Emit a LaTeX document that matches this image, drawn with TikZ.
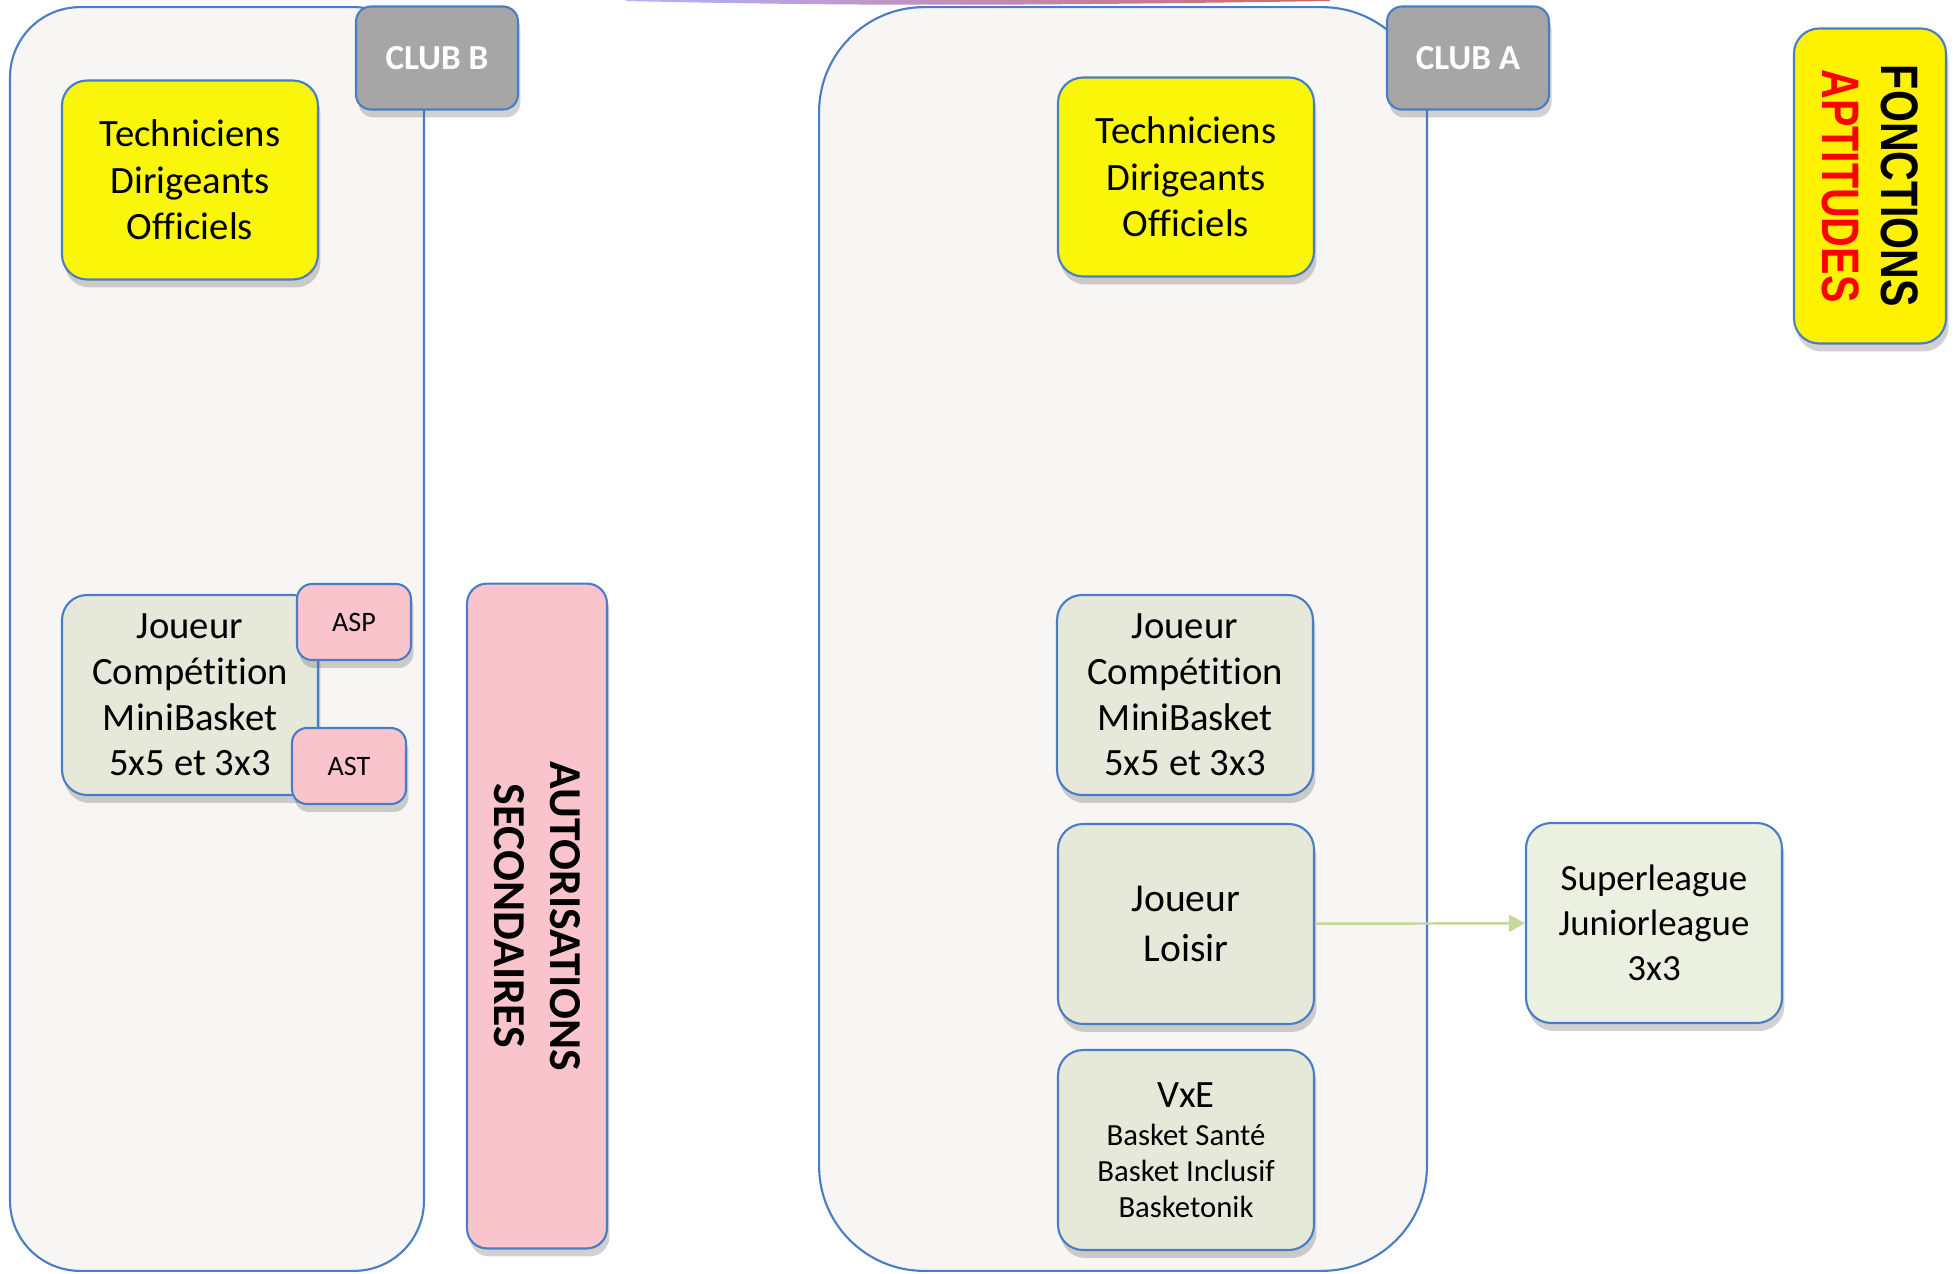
\documentclass[tikz,border=0pt]{standalone}
\usepackage{fontspec}
\setmainfont{Carlito}[Ligatures=NoCommon]
\newfontfamily\widefont{Liberation Sans}
\usetikzlibrary{positioning}
\usetikzlibrary{shadows}
\usetikzlibrary{arrows.meta}
\definecolor{edgeblue}{HTML}{4A7EC4}
\definecolor{zonegray}{HTML}{F7F6F4}
\definecolor{tabgray}{HTML}{A6A6A6}
\definecolor{jaune}{HTML}{FAF60A}
\definecolor{sauge}{HTML}{E6E9D9}
\definecolor{saugeclair}{HTML}{EBF0E0}
\definecolor{rose}{HTML}{F9C4CC}
\definecolor{vert}{HTML}{C4D89A}
\tikzset{
  box/.style            = { rectangle, rounded corners=5mm, align=center, inner sep=0pt },
  border/.style         = { line width=1.2pt, draw=edgeblue },
  lifted/.style         = { drop shadow={shadow xshift=0.5mm, shadow yshift=-1.6mm, opacity=0.3, fill=black!60} },
}
\tikzset{
  zone/.style           = { border, fill=zonegray, rectangle, minimum height=25.28cm },
  tab/.style            = { box, border, lifted, rounded corners=3mm, fill=tabgray,
                            minimum width=3.24cm, minimum height=2.06cm,
                            text=white, font=\fontsize{20}{24}\selectfont\bfseries },
  staff/.style          = { box, border, lifted, fill=jaune, minimum width=5.12cm, minimum height=3.98cm,
                            font=\fontsize{22}{26.5}\selectfont },
  player/.style         = { box, border, lifted, fill=sauge, minimum width=5.12cm, minimum height=4cm,
                            font=\fontsize{22}{26}\selectfont },
  permit/.style         = { box, border, lifted, rounded corners=3mm, fill=rose,
                            minimum width=2.28cm, minimum height=1.52cm, font=\fontsize{16}{19}\selectfont },
  link/.style           = { line width=1.4pt, draw=vert, -{Triangle[length=3.2mm, width=3.4mm]} }
}

\begin{document}
\begin{tikzpicture}[x=0.02cm, y=-0.02cm]
  \useasboundingbox (0,0) rectangle (1954,1274);
  % bande en haut
  \shade [left color=blue!30!white, middle color={rgb,255:red,45;green,30;blue,100}, right color=red!70!black!60!white]
    (626,0) -- (1330,0) -- (1330,1) .. controls (1000,6) and (850,6) .. (626,1) -- cycle;

  % club B
  \node (zoneB) [zone, rounded corners=14mm, minimum width=8.28cm] at (217,639) {};
  \node (clubB) [tab] at (437,58) {CLUB B};
  \node (staffB) [staff] at (190,180) {Techniciens\\Dirigeants\\Officiels};
  \node (joueurB) [player] at (190,695) {Joueur\\Compétition\\MiniBasket\\5x5 et 3x3};
  \node (asp) [permit] at (354,622) {ASP};
  \node (ast) [permit] at (349,766) {AST};

  \node (autoris) [box, border, lifted, rounded corners=4mm, fill=rose,
                   minimum width=2.8cm, minimum height=13.3cm] at (537,916) {};
  \node (autorisText) [rotate=-90, align=center, font=\fontsize{26}{32}\selectfont\bfseries]
    at (autoris.center) {AUTORISATIONS\\SECONDAIRES};

  % club A
  \node (zoneA) [zone, rounded corners=21mm, minimum width=12.16cm] at (1123,639) {};
  \node (clubA) [tab] at (1468,58) {CLUB A};
  \node (staffA) [staff] at (1186,177) {Techniciens\\Dirigeants\\Officiels};
  \node (joueurA) [player] at (1185,695) {Joueur\\Compétition\\MiniBasket\\5x5 et 3x3};
  \node (loisir) [player, font=\fontsize{22.5}{28}\selectfont] at (1186,924) {Joueur\\Loisir};
  \node (vxe) [player, font=\fontsize{17.5}{20.5}\selectfont] at (1186,1150)
    {{\fontsize{22}{26}\selectfont VxE}\\[1pt]Basket Santé\\Basket Inclusif\\Basketonik};

  \node (league) [player, fill=saugeclair, font=\fontsize{21}{25.5}\selectfont] at (1654,923)
    {Superleague\\Juniorleague\\3x3};

  % legende
  \node (legende) [box, border, lifted, fill=yellow, minimum width=3.04cm, minimum height=6.3cm] at (1870,186) {};
  \node (legendeText) [rotate=-90, align=center, font=\fontsize{30}{34}\selectfont\widefont\bfseries]
    at (legende.center) {\scalebox{0.78}[1]{FONCTIONS}\\\scalebox{0.78}[1]{\textcolor{red}{APTITUDES}}};

  \draw [link] (loisir) -- (league);
\end{tikzpicture}
\end{document}
